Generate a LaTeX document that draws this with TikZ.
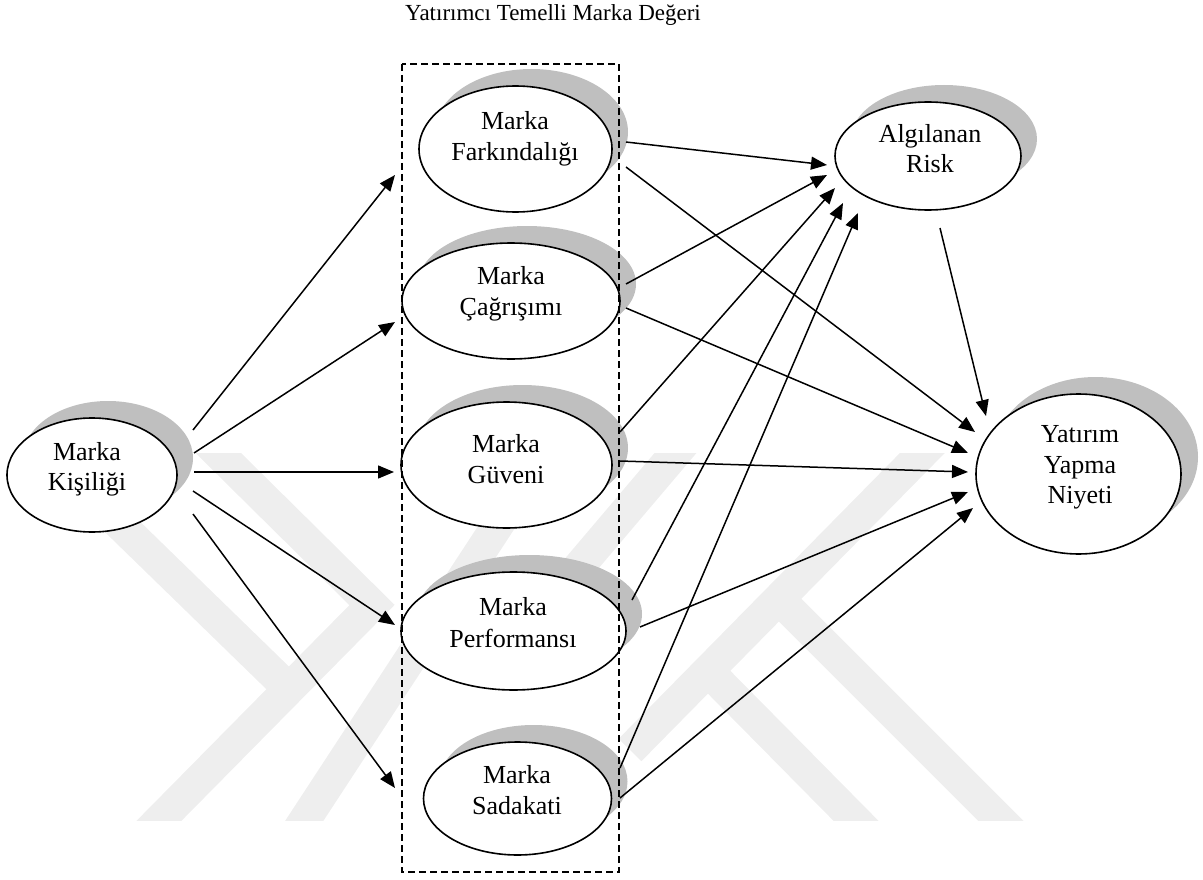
\documentclass[tikz,border=0pt]{standalone}
\usepackage{fontspec}
\setmainfont{Liberation Serif}
\usetikzlibrary{arrows.meta,shapes.geometric}
\definecolor{shadowgray}{HTML}{BFBFBF}
\definecolor{wmgray}{HTML}{EEEEEE}
\tikzset{
  ell/.style={ellipse,draw,line width=1.6pt,fill=white,inner sep=0pt},
  shd/.style={ellipse,fill=shadowgray,draw=none,inner sep=0pt},
  lbl/.style={anchor=base,inner sep=0pt,font=\fontsize{26}{31}\selectfont},
  arr/.style={line width=1.5pt,-{Triangle[length=16pt,width=13pt]}},
  wm/.style={line width=32pt,draw=wmgray,line cap=butt,line join=miter}
}
\begin{document}
\begin{tikzpicture}[x=1pt,y=-1pt]
\useasboundingbox (0,0) rectangle (1203,880);
% watermark
\begin{scope}
\clip (0,453) rectangle (1203,820);
\draw[wm] (195,430) -- (372,605) -- (145,835);
\draw[wm] (100,505) -- (285,685);
\draw[wm] (295,835) -- (560,430);
\draw[wm] (555,595) -- (695,430);
\draw[wm] (630,750) -- (945,430);
\draw[wm] (712,675) -- (870,835);
\draw[wm] (785,605) -- (1015,835);
\end{scope}
% title
\node[anchor=base,inner sep=0pt,font=\fontsize{23}{28}\selectfont] (title) at (553,21) {Yatırımcı Temelli Marka Değeri};
% shadows
\node[shd,minimum width=170pt,minimum height=114pt] (kisS) at (108,458) {};
\node[shd,minimum width=193pt,minimum height=126pt] (farS) at (531.5,132) {};
\node[shd,minimum width=218pt,minimum height=116pt] (cagS) at (527,284) {};
\node[shd,minimum width=211pt,minimum height=126pt] (guvS) at (522.5,448) {};
\node[shd,minimum width=225pt,minimum height=118pt] (perS) at (529.5,614) {};
\node[shd,minimum width=188pt,minimum height=113pt] (sadS) at (533.5,781.5) {};
\node[shd,minimum width=186pt,minimum height=108pt] (riskS) at (944,139) {};
\node[shd,minimum width=205pt,minimum height=160pt] (yatS) at (1095.5,457) {};
% ellipses
\node[ell,minimum width=170pt,minimum height=114pt] (kis) at (92,475) {};
\node[ell,minimum width=193pt,minimum height=126pt] (far) at (515.5,149) {};
\node[ell,minimum width=218pt,minimum height=116pt] (cag) at (511,301) {};
\node[ell,minimum width=211pt,minimum height=126pt] (guv) at (506.5,465) {};
\node[ell,minimum width=225pt,minimum height=118pt] (per) at (513.5,631) {};
\node[ell,minimum width=188pt,minimum height=113pt] (sad) at (517.5,798.5) {};
\node[ell,minimum width=186pt,minimum height=108pt] (risk) at (928,156) {};
\node[ell,minimum width=205pt,minimum height=160pt] (yat) at (1078.5,474) {};
% labels
\node[lbl] (kis1) at (87,460) {Marka};
\node[lbl] (kis2) at (87,490) {Kişiliği};
\node[lbl] (far1) at (515,130) {Marka};
\node[lbl] (far2) at (515,161) {Farkındalığı};
\node[lbl] (cag1) at (511,284) {Marka};
\node[lbl] (cag2) at (511,315) {Çağrışımı};
\node[lbl] (guv1) at (506,452) {Marka};
\node[lbl] (guv2) at (506,483) {Güveni};
\node[lbl] (per1) at (513,615) {Marka};
\node[lbl] (per2) at (513,647) {Performansı};
\node[lbl] (sad1) at (517,783) {Marka};
\node[lbl] (sad2) at (517,814) {Sadakati};
\node[lbl] (risk1) at (930,143) {Algılanan};
\node[lbl] (risk2) at (930,173) {Risk};
\node[lbl] (yat1) at (1080,442) {Yatırım};
\node[lbl] (yat2) at (1080,473) {Yapma};
\node[lbl] (yat3) at (1080,503) {Niyeti};
% dashed group box
\coordinate (boxA) at (402,64);
\coordinate (boxB) at (619,872);
\draw[line width=1.5pt,dash pattern=on 7pt off 4pt] (boxA) rectangle (boxB);
% connector end points
\coordinate (k1) at (193,430); \coordinate (t1) at (395,175);
\coordinate (k2) at (194,453); \coordinate (t2) at (395,322);
\coordinate (k3) at (194,472); \coordinate (t3) at (394,472);
\coordinate (k4) at (193,491); \coordinate (t4) at (395,625);
\coordinate (k5) at (193,514); \coordinate (t5) at (395,788);
\coordinate (fr) at (626,142); \coordinate (rf) at (827,165);
\coordinate (cr) at (626,284); \coordinate (rc) at (827,175);
\coordinate (gr) at (620,432); \coordinate (rg) at (835,188);
\coordinate (pr) at (632,600); \coordinate (rp) at (843,203);
\coordinate (sr) at (620,768); \coordinate (rs) at (858,213);
\coordinate (ry) at (940,228); \coordinate (yr) at (986,416);
\coordinate (fy) at (626,167); \coordinate (yf) at (975,432);
\coordinate (cy) at (626,308); \coordinate (yc) at (968,453);
\coordinate (gy) at (620,461); \coordinate (yg) at (968,472);
\coordinate (py) at (640,627); \coordinate (yp) at (968,492);
\coordinate (sy) at (620,798); \coordinate (ys) at (973,508);
% connectors
\draw[arr] (k1) -- (t1);
\draw[arr] (k2) -- (t2);
\draw[arr] (k3) -- (t3);
\draw[arr] (k4) -- (t4);
\draw[arr] (k5) -- (t5);
\draw[arr] (fr) -- (rf);
\draw[arr] (cr) -- (rc);
\draw[arr] (gr) -- (rg);
\draw[arr] (pr) -- (rp);
\draw[arr] (sr) -- (rs);
\draw[arr] (ry) -- (yr);
\draw[arr] (fy) -- (yf);
\draw[arr] (cy) -- (yc);
\draw[arr] (gy) -- (yg);
\draw[arr] (py) -- (yp);
\draw[arr] (sy) -- (ys);
\end{tikzpicture}
\end{document}
